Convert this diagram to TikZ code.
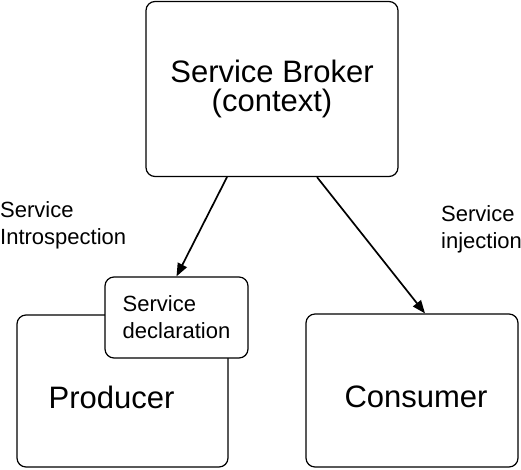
\documentclass[tikz,border=0pt]{standalone}
\usepackage{fontspec}
\setmainfont{Liberation Sans}
\usepackage{tikz}
\usetikzlibrary{
  positioning,
  arrows.meta
}

\tikzset{
  box/.style={draw, line width=1.2pt, rounded corners=9pt, fill=white, inner sep=0pt},
  bigtext/.style={font=\fontsize{31}{29}\selectfont, align=center},
  smalltext/.style={font=\fontsize{22}{27}\selectfont, align=left, inner sep=0pt},
  arr/.style={line width=1.7pt, -{Triangle[length=13pt, width=10pt]}}
}

\begin{document}
\begin{tikzpicture}[x=1pt, y=-1pt]
      % Frame
      \useasboundingbox (0,0) rectangle (521,469);

      % Broker
      \node[box, bigtext, minimum width=252pt, minimum height=175pt] (broker) at (272,89) {Service Broker\\(context)};

      % Producer with its declaration
      \node[box, minimum width=211pt, minimum height=152pt] (producer) at (122.5,391) {};
      \node[bigtext] (producertext) at ([xshift=-11pt, yshift=-6pt]producer.center) {Producer};
      \node[box, smalltext, minimum width=143pt, minimum height=81pt] (decl) at (176.5,317.5) {Service\\declaration};

      % Consumer
      \node[box, minimum width=212pt, minimum height=153pt] (consumer) at (412,390.5) {};
      \node[bigtext] (consumertext) at ([xshift=4pt, yshift=-6pt]consumer.center) {Consumer};

      % Arrows
      \draw[arr] ([xshift=-45pt]broker.south) -- (decl.north);
      \draw[arr] ([xshift=45pt]broker.south) -- ([xshift=13pt]consumer.north);

      % Labels
      \node[smalltext, anchor=north west] (introlabel) at (0,201) {Service\\Introspection};
      \node[smalltext, anchor=north west] (injectlabel) at (441,205) {Service\\injection};
    \end{tikzpicture}
\end{document}
